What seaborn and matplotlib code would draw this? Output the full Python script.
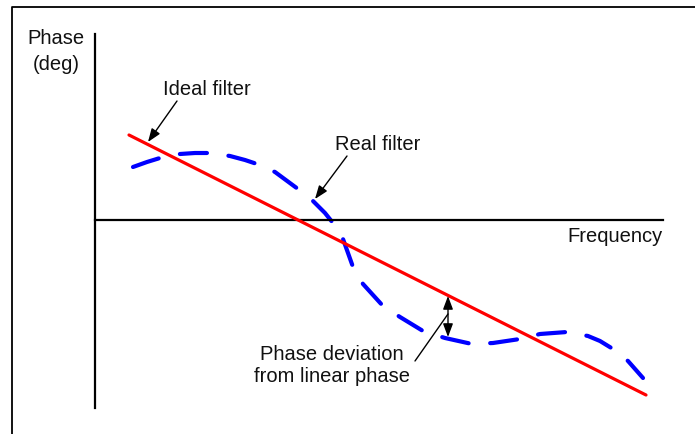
import matplotlib
matplotlib.use("Agg")
import matplotlib.pyplot as plt
from matplotlib.lines import Line2D
import seaborn as sns
import pandas as pd

# ---- data (arbitrary frequency / phase units) ----
ideal_freq = [0.34, 5.51]
ideal_phase = [0.85, -1.75]

real_freq = [0.38, 0.52, 0.65, 0.85, 1.00, 1.15, 1.35, 1.50, 1.62, 1.80, 2.03, 2.18,
             2.30, 2.38, 2.48, 2.53, 2.58, 2.68, 2.88, 3.05, 3.28, 3.50, 3.77, 3.98,
             4.25, 4.45, 4.72, 4.93, 5.05, 5.18, 5.33, 5.48]
real_phase = [0.53, 0.58, 0.62, 0.66, 0.67, 0.67, 0.64, 0.60, 0.56, 0.48, 0.31, 0.19,
              0.07, -0.03, -0.19, -0.33, -0.47, -0.64, -0.86, -0.97, -1.11, -1.18, -1.24, -1.23,
              -1.19, -1.14, -1.12, -1.16, -1.21, -1.29, -1.41, -1.58]

labels = ["Ideal filter", "Real filter", "Frequency", "Phase\n(deg)",
          "Phase deviation\nfrom linear phase"]

sns.set_theme(style="white")
plt.rcParams['font.family'] = ['Liberation Sans', 'DejaVu Sans']

fig = plt.figure(figsize=(6.95, 4.35), dpi=100)
ax = fig.add_axes([0, 0, 1, 1])
ax.set_facecolor("none")

ideal_df = pd.DataFrame({"f": ideal_freq, "p": ideal_phase})
real_df = pd.DataFrame({"f": real_freq, "p": real_phase})

sns.lineplot(data=ideal_df, x="f", y="p", ax=ax, color="#ff0000", lw=2.3,
             solid_capstyle="round", sort=False, zorder=3)
sns.lineplot(data=real_df, x="f", y="p", ax=ax, color="#0000ff", lw=3.0,
             sort=False, zorder=2, dashes=False)
blue = ax.lines[-1]
blue.set_dashes((6.5, 5.2))
blue.set_dash_capstyle("round")
blue.set_solid_joinstyle("round")
blue.set_dash_joinstyle("round")

# axes mapping: x=(px-95)/100, y=(221-py)/100
ax.set_xlim(-0.95, 6.0)
ax.set_ylim(-2.14, 2.21)
ax.set_xlabel("")
ax.set_ylabel("")
ax.set_xticks([])
ax.set_yticks([])
for s in ["top", "right"]:
    ax.spines[s].set_visible(False)
ax.spines["left"].set_position(("data", 0))
ax.spines["bottom"].set_position(("data", 0))
ax.spines["left"].set_bounds(-1.88, 1.86)
ax.spines["bottom"].set_bounds(0, 5.68)
for s in ["left", "bottom"]:
    ax.spines[s].set_color("black")
    ax.spines[s].set_linewidth(1.6)

fs = 14.5
ax.text(-0.39, 1.695, labels[3], ha="center", va="center", fontsize=fs,
        linespacing=1.45, color="#111111")
ax.text(0.68, 1.31, labels[0], ha="left", va="center", fontsize=fs, color="#111111")
ax.text(2.40, 0.76, labels[1], ha="left", va="center", fontsize=fs, color="#111111")
ax.text(5.68, -0.16, labels[2], ha="right", va="center", fontsize=fs, color="#111111")
ax.text(2.37, -1.445, labels[4], ha="center", va="center", fontsize=fs,
        linespacing=1.25, color="#111111")

arrow = dict(arrowstyle="-|>,head_length=0.8,head_width=0.3", color="black",
             lw=1.0, shrinkA=0, shrinkB=0, mutation_scale=10)
ax.annotate("", xy=(0.53, 0.78), xytext=(0.82, 1.19), arrowprops=arrow)
ax.annotate("", xy=(2.20, 0.21), xytext=(2.52, 0.64), arrowprops=arrow)
ax.annotate("", xy=(3.53, -0.76), xytext=(3.53, -1.17),
            arrowprops=dict(arrowstyle="<|-|>,head_length=0.8,head_width=0.3",
                            color="black", lw=1.0, shrinkA=0, shrinkB=0,
                            mutation_scale=10))
ax.annotate("", xy=(3.53, -0.94), xytext=(3.20, -1.41),
            arrowprops=dict(arrowstyle="-", color="black", lw=1.0,
                            shrinkA=0, shrinkB=0))

# outer frame (partial rectangle)
fx = 12 / 695
fy = 1 - 7.5 / 435
fig.add_artist(Line2D([fx, fx, 1.0], [0.0, fy, fy], transform=fig.transFigure,
                      color="black", lw=1.3))

fig.savefig("out.png", dpi=100)
